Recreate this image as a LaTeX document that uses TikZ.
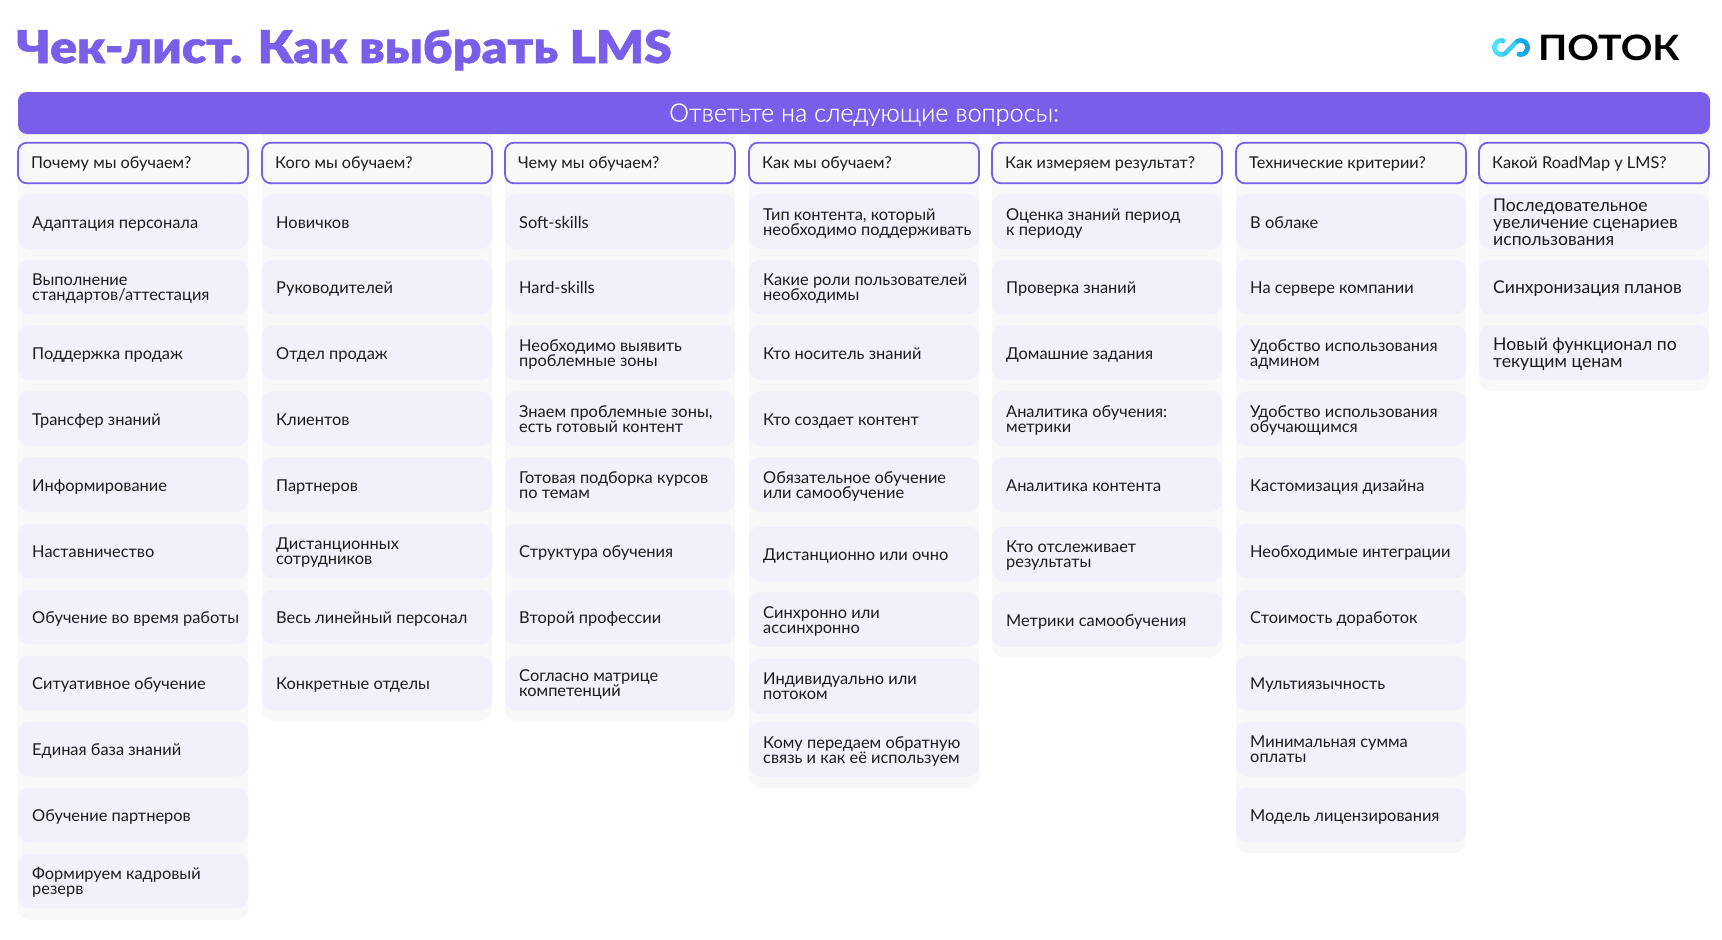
\documentclass[tikz,border=0pt]{standalone}
\usepackage{fontspec}
\setmainfont{Lato}
\newfontfamily\titlefont{Lato Black}[FakeBold=1.2,FakeStretch=1.115]
\newfontfamily\logofont{Lato Bold}[FakeStretch=1.12]
\newfontfamily\lightfont{Lato Light}[FakeBold=0.4]
\definecolor{accent}{HTML}{785EE8}
\definecolor{panel}{HTML}{F8F8F8}
\definecolor{cell}{HTML}{F2F0FB}
\definecolor{ink}{HTML}{1C1C1C}
\definecolor{logoa}{HTML}{4FE3F7}
\definecolor{logob}{HTML}{16A3E6}
\tikzset{
  x=1pt,y=-1pt,
  bar/.style={fill=accent,draw=none,rounded corners=9pt,minimum width=1692pt,minimum height=42pt,inner sep=0pt,text=white,text height=23pt,text depth=6pt,font=\fontsize{25.2}{28}\lightfont},
  headbox/.style={fill=panel,draw=accent,line width=1.8pt,rounded corners=9pt,minimum width=230pt,minimum height=40.6pt,inner sep=0pt,outer sep=0pt,anchor=west},
  headtext/.style={inner sep=0pt,anchor=west,align=left,text=ink,font=\fontsize{16.3}{18}\selectfont,execute at begin node={\rule{0pt}{14.5pt}},execute at end node={\rule[-4pt]{0pt}{4pt}}},
  cellbox/.style={fill=cell,draw=none,rounded corners=11pt,minimum width=230pt,minimum height=54.5pt,inner sep=0pt,outer sep=0pt,anchor=west},
  celltext/.style={inner sep=0pt,anchor=west,align=left,text=ink,font=\fontsize{16.4}{15}\selectfont,execute at begin node={\rule{0pt}{17.5pt}},execute at end node={\rule[-4pt]{0pt}{4pt}}},
  mtext/.style={celltext,yshift=-2.2pt},
  bigtext/.style={celltext,font=\fontsize{17.6}{17}\selectfont},
  bigm/.style={bigtext,yshift=-2.2pt},
}
\newcommand{\cl}[4][celltext]{\node[cellbox] (#3) at (#2) {}; \node[#1] (#3t) at ([xshift=14pt]#3.west) {#4};}
\newcommand{\hd}[3]{\node[headbox] (#2) at (#1) {}; \node[headtext] (#2t) at ([xshift=13pt]#2.west) {#3};}
\begin{document}
\begin{tikzpicture}
\useasboundingbox (0,0) rectangle (1722,940);
\fill[white] (0,0) rectangle (1722,940);
% column panels
\fill[panel] (18,134) -- (248,134) -- (248,908) arc[start angle=0,end angle=90,radius=12] -- (30,920) arc[start angle=90,end angle=180,radius=12] -- cycle;
\fill[panel] (262,134) -- (492,134) -- (492,709) arc[start angle=0,end angle=90,radius=12] -- (274,721) arc[start angle=90,end angle=180,radius=12] -- cycle;
\fill[panel] (505,134) -- (735,134) -- (735,709) arc[start angle=0,end angle=90,radius=12] -- (517,721) arc[start angle=90,end angle=180,radius=12] -- cycle;
\fill[panel] (749,134) -- (979,134) -- (979,776) arc[start angle=0,end angle=90,radius=12] -- (761,788) arc[start angle=90,end angle=180,radius=12] -- cycle;
\fill[panel] (992,134) -- (1222,134) -- (1222,645) arc[start angle=0,end angle=90,radius=12] -- (1004,657) arc[start angle=90,end angle=180,radius=12] -- cycle;
\fill[panel] (1236,134) -- (1466,134) -- (1466,841) arc[start angle=0,end angle=90,radius=12] -- (1248,853) arc[start angle=90,end angle=180,radius=12] -- cycle;
\fill[panel] (1479,134) -- (1709,134) -- (1709,379) arc[start angle=0,end angle=90,radius=12] -- (1491,391) arc[start angle=90,end angle=180,radius=12] -- cycle;
% title, logo
\node[anchor=base west,inner sep=0pt,text=accent,font=\fontsize{45}{50}\titlefont] (title) at (16,63) {Чек-лист. Как выбрать LMS};
\node[anchor=base west,inner sep=0pt,text=black,font=\fontsize{35}{40}\logofont] (logo) at (1538,60) {ПОТОК};
\foreach \t in {0,1,...,28}{
  \pgfmathsetmacro\sa{\t+1}
  \pgfmathsetmacro\xa{\t<=14 ? 1501.5+7*cos(76+16*\t) : 1520.5+7*cos(120-16*(\t-15))}
  \pgfmathsetmacro\ya{\t<=14 ? 47.5-7*sin(76+16*\t) : 47.5-7*sin(120-16*(\t-15))}
  \pgfmathsetmacro\xb{\sa<=14 ? 1501.5+7*cos(76+16*\sa) : 1520.5+7*cos(120-16*(\sa-15))}
  \pgfmathsetmacro\yb{\sa<=14 ? 47.5-7*sin(76+16*\sa) : 47.5-7*sin(120-16*(\sa-15))}
  \pgfmathsetmacro\mx{max(0,min(100,(\xa-1495)/30*100))}
  \colorlet{segc}{logob!\mx!logoa}
  \draw[segc,line width=4.6pt,line cap=round] (\xa,\ya) -- (\xb,\yb);
}
% bar
\node[bar] (bar) at (864,113) {Ответьте на следующие вопросы:};
% headers
\hd{18,163}{h1}{Почему мы обучаем?}
\hd{262,163}{h2}{Кого мы обучаем?}
\hd{505,163}{h3}{Чему мы обучаем?}
\hd{749,163}{h4}{Как мы обучаем?}
\hd{992,163}{h5}{Как измеряем результат?}
\hd{1236,163}{h6}{Технические критерии?}
\hd{1479,163}{h7}{Какой RoadMap у LMS?}
% column 1
\cl{18,221.5}{a1}{Адаптация персонала}
\cl[mtext]{18,287}{a2}{Выполнение\\стандартов/аттестация}
\cl{18,352.5}{a3}{Поддержка продаж}
\cl{18,418.5}{a4}{Трансфер знаний}
\cl{18,484.5}{a5}{Информирование}
\cl{18,551}{a6}{Наставничество}
\cl{18,617}{a7}{Обучение во время работы}
\cl{18,683}{a8}{Ситуативное обучение}
\cl{18,749}{a9}{Единая база знаний}
\cl{18,815}{a10}{Обучение партнеров}
\cl[mtext]{18,881}{a11}{Формируем кадровый\\резерв}
% column 2
\cl{262,221.5}{b1}{Новичков}
\cl{262,287}{b2}{Руководителей}
\cl{262,352.5}{b3}{Отдел продаж}
\cl{262,418.5}{b4}{Клиентов}
\cl{262,484.5}{b5}{Партнеров}
\cl[mtext]{262,551}{b6}{Дистанционных\\сотрудников}
\cl{262,617}{b7}{Весь линейный персонал}
\cl{262,683}{b8}{Конкретные отделы}
% column 3
\cl{505,221.5}{c1}{Soft-skills}
\cl{505,287}{c2}{Hard-skills}
\cl[mtext]{505,352.5}{c3}{Необходимо выявить\\проблемные зоны}
\cl[mtext]{505,418.5}{c4}{Знаем проблемные зоны,\\есть готовый контент}
\cl[mtext]{505,484.5}{c5}{Готовая подборка курсов\\по темам}
\cl{505,551}{c6}{Структура обучения}
\cl{505,617}{c7}{Второй профессии}
\cl[mtext]{505,683}{c8}{Согласно матрице\\компетенций}
% column 4
\cl[mtext]{749,221.5}{d1}{Тип контента, который\\необходимо поддерживать}
\cl[mtext]{749,287}{d2}{Какие роли пользователей\\необходимы}
\cl{749,352.5}{d3}{Кто носитель знаний}
\cl{749,418.5}{d4}{Кто создает контент}
\cl[mtext]{749,484.5}{d5}{Обязательное обучение\\или самообучение}
\cl{749,554}{d6}{Дистанционно или очно}
\cl[mtext]{749,619.5}{d7}{Синхронно или\\ассинхронно}
\cl[mtext]{749,686}{d8}{Индивидуально или\\потоком}
\cl[mtext]{749,749.5}{d9}{Кому передаем обратную\\связь и как её используем}
% column 5
\cl[mtext]{992,221.5}{e1}{Оценка знаний период\\к периоду}
\cl{992,287}{e2}{Проверка знаний}
\cl{992,352.5}{e3}{Домашние задания}
\cl[mtext]{992,418.5}{e4}{Аналитика обучения:\\метрики}
\cl{992,484.5}{e5}{Аналитика контента}
\cl[mtext]{992,554}{e6}{Кто отслеживает\\результаты}
\cl{992,619.5}{e7}{Метрики самообучения}
% column 6
\cl{1236,221.5}{f1}{В облаке}
\cl{1236,287}{f2}{На сервере компании}
\cl[mtext]{1236,352.5}{f3}{Удобство использования\\админом}
\cl[mtext]{1236,418.5}{f4}{Удобство использования\\обучающимся}
\cl{1236,484.5}{f5}{Кастомизация дизайна}
\cl{1236,551}{f6}{Необходимые интеграции}
\cl{1236,617}{f7}{Стоимость доработок}
\cl{1236,683}{f8}{Мультиязычность}
\cl[mtext]{1236,749}{f9}{Минимальная сумма\\оплаты}
\cl{1236,815}{f10}{Модель лицензирования}
% column 7
\cl[bigm]{1479,221.5}{g1}{Последовательное\\увеличение сценариев\\использования}
\cl[bigtext]{1479,287}{g2}{Синхронизация планов}
\cl[bigm]{1479,352.5}{g3}{Новый функционал по\\текущим ценам}
\end{tikzpicture}
\end{document}
